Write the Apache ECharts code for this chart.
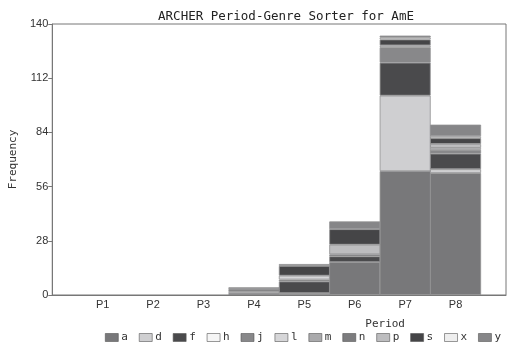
<!DOCTYPE html>
<html>
<head>
<meta charset="utf-8">
<script src="https://cdn.jsdelivr.net/npm/echarts@6/dist/echarts.min.js"></script>
<style>html,body{margin:0;padding:0;background:#fff}#c{width:509px;height:349px}</style>
</head>
<body>
<div id="c"></div>
<script>
var categories = ['P1','P2','P3','P4','P5','P6','P7','P8'];
var yTicks = [0, 28, 56, 84, 112, 140];
var genres = ['a','d','f','h','j','l','m','n','p','s','x','y'];
var colors = ['#78787a','#cfcfd1','#4a4a4c','#f5f5f5','#88888a','#d6d6d8','#aaaaac','#7c7c7e','#bdbdbf','#454547','#eeeeee','#868688'];
var a = [0,0,0,0,1,17,64,63];
var d = [0,0,0,0,0,0,39,2];
var f = [0,0,0,1,6,3,17,8];
var h = [0,0,0,0,0,0,0,0];
var j = [0,0,0,0,1,0,8,2];
var l = [0,0,0,1,2,0,0,1];
var m = [0,0,0,0,0,0,0,0];
var n = [0,0,0,0,0,1,0,0];
var p = [0,0,0,0,0,5,1,2];
var s = [0,0,0,1,5,8,3,3];
var x = [0,0,0,0,0,0,1,1];
var y = [0,0,0,1,1,4,1,6];
var values = [a,d,f,h,j,l,m,n,p,s,x,y];

// padded category axis: empty slot at each end so P1 sits one band in from the y axis
var axisCats = [''].concat(categories, ['']);

var chart = echarts.init(document.getElementById('c'));
var series = genres.map(function(g, gi){
  return {
    name: g, type: 'bar', stack: 'total', barWidth: 51,
    itemStyle: {color: colors[gi], borderColor: '#909092', borderWidth: 0.8},
    data: [null].concat(values[gi].map(function(v){ return v === 0 ? null : v; }), [null])
  };
});
chart.setOption({
  animation: false,
  title: {text: 'ARCHER Period-Genre Sorter for AmE', left: 281, top: 5, textAlign: 'center',
    textStyle: {fontFamily: 'DejaVu Sans Mono', fontSize: 12.5, fontWeight: 'normal', color: '#222'}},
  grid: {left: 48, right: -5, top: 24, bottom: 54, show: true, borderColor: '#777', borderWidth: 1},
  legend: {data: genres, bottom: 1, left: 100, itemWidth: 13, itemHeight: 8, itemGap: 11,
    icon: 'rect',
    itemStyle: {borderColor: '#555', borderWidth: 0.6},
    textStyle: {fontFamily: 'DejaVu Sans Mono', fontSize: 11, color: '#333', padding: [0,0,0,-2]}},
  xAxis: {type: 'category', data: axisCats, boundaryGap: false, name: 'Period', nameLocation: 'middle', nameGap: 24,
    nameTextStyle: {fontFamily: 'DejaVu Sans Mono', fontSize: 11, color: '#333', padding: [0,0,0,212]},
    axisLine: {show: true, lineStyle: {color: '#777'}}, axisTick: {show: false}, splitLine: {show: false},
    axisLabel: {fontFamily: 'Liberation Sans', fontSize: 11, color: '#333', margin: 4, interval: 0}},
  yAxis: {type: 'value', min: yTicks[0], max: yTicks[yTicks.length-1], interval: 28, name: 'Frequency', nameLocation: 'middle', nameGap: 31,
    nameTextStyle: {fontFamily: 'DejaVu Sans Mono', fontSize: 11, color: '#333'},
    axisLine: {show: true, lineStyle: {color: '#777'}}, axisTick: {show: true, length: 4, lineStyle: {color: '#777'}},
    splitLine: {show: false},
    axisLabel: {fontFamily: 'Liberation Sans', fontSize: 11, color: '#333', margin: 4}},
  series: series
});
</script>
</body>
</html>
